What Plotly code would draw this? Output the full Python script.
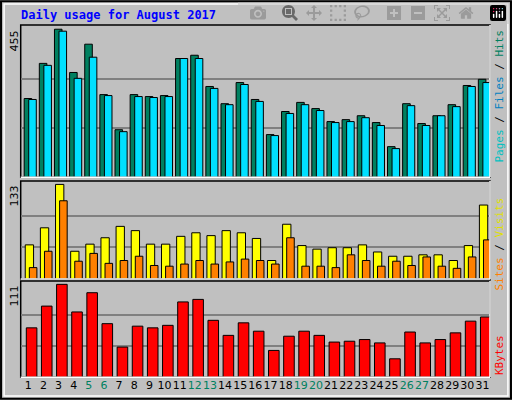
import plotly.graph_objects as go

days = list(range(1, 32))
hits = [242, 350, 455, 322, 409, 254, 146, 254, 248, 251, 365, 375, 279, 226, 291, 239,
        131, 202, 230, 211, 171, 177, 189, 168, 94, 226, 165, 189, 223, 282, 301]
files = [239, 344, 449, 304, 369, 251, 140, 248, 245, 248, 365, 365, 273, 223, 285, 233,
         128, 196, 223, 205, 168, 171, 183, 159, 88, 220, 159, 189, 217, 279, 291]
visits = [48, 72, 133, 39, 49, 58, 74, 68, 49, 49, 60, 65, 61, 68, 65, 57,
          26, 77, 47, 42, 44, 44, 48, 38, 32, 32, 34, 34, 26, 47, 104]
sites = [16, 39, 110, 25, 36, 22, 26, 32, 19, 18, 21, 26, 21, 24, 28, 26,
         21, 58, 18, 18, 16, 34, 26, 18, 25, 19, 31, 18, 15, 31, 55]
kbytes = [59, 85, 111, 78, 101, 64, 36, 61, 59, 62, 90, 93, 68, 50, 65, 55,
          32, 49, 55, 50, 42, 43, 45, 41, 22, 54, 41, 45, 53, 67, 72]
weekend = {5, 6, 12, 13, 19, 20, 26, 27}

BG = "#C0C0C0"
line = dict(color="black", width=1)
fig = go.Figure()

def bars(vals, color, offset, width, axis):
    fig.add_trace(go.Bar(x=days, y=vals, offset=offset, width=width,
                         marker=dict(color=color, line=line),
                         xaxis="x" + axis, yaxis="y" + axis, showlegend=False))

bars(hits, "#008060", -0.27, 0.5, "")
bars(files, "#00E0FF", 0.03, 0.5, "")
bars(visits, "#FFFF00", -0.2, 0.55, "2")
bars(sites, "#FF8000", 0.07, 0.5, "2")
bars(kbytes, "#FF0000", -0.13, 0.7, "3")

ticktext = [f"<span style='color:#008060'>{d}</span>" if d in weekend else str(d) for d in days]
xdom = [20.7 / 512, 490 / 512]
xa = dict(range=[0.5, 31.5], domain=xdom, showticklabels=False, showgrid=False,
          zeroline=False, ticks="", showline=False)
lay = dict(
    width=512, height=400, margin=dict(l=0, r=0, t=0, b=0),
    paper_bgcolor=BG, plot_bgcolor=BG, barmode="overlay",
    font=dict(family="DejaVu Sans Mono", size=11, color="black"),
    xaxis=dict(xa, anchor="y"),
    xaxis2=dict(xa, anchor="y2"),
    xaxis3=dict(xa, anchor="y3", showticklabels=True, tickvals=days, ticktext=ticktext,
                tickangle=0, tickfont=dict(family="DejaVu Sans", size=11)),
    yaxis=dict(domain=[0.557, 0.9375], range=[0, 468], anchor="x",
               tickvals=[455 / 3, 455 * 2 / 3]),
    yaxis2=dict(domain=[0.3025, 0.5475], range=[0, 137.8], anchor="x2",
                tickvals=[133 / 3, 133 * 2 / 3]),
    yaxis3=dict(domain=[0.057, 0.2975], range=[0, 115], anchor="x3",
                tickvals=[111 / 3, 111 * 2 / 3]),
)
for k in ("yaxis", "yaxis2", "yaxis3"):
    lay[k].update(showticklabels=False, gridcolor="#808080", gridwidth=1.5,
                  zeroline=False, ticks="")
fig.update_layout(**lay)

# panel borders
for y0, y1 in [(0.557, 0.9375), (0.3025, 0.5475), (0.057, 0.2975)]:
    fig.add_shape(type="rect", xref="paper", yref="paper", x0=xdom[0], x1=xdom[1],
                  y0=y0, y1=y1, line=dict(color="black", width=1.5), layer="below")
    fig.add_shape(type="line", xref="paper", yref="paper", x0=xdom[1], x1=xdom[1],
                  y0=y0, y1=y1, line=dict(color="white", width=1.5))
    fig.add_shape(type="line", xref="paper", yref="paper", x0=xdom[0], x1=xdom[1],
                  y0=y0, y1=y0, line=dict(color="white", width=1.5))
# outer bevel
fig.add_shape(type="rect", xref="paper", yref="paper", x0=0.002, x1=0.998, y0=0.003, y1=0.997,
              line=dict(color="black", width=2))
fig.add_shape(type="rect", xref="paper", yref="paper", x0=0.008, x1=0.992, y0=0.01, y1=0.99,
              line=dict(color="white", width=1.5))

fig.add_annotation(text="<b>Daily usage for August 2017</b>", xref="paper", yref="paper",
                   x=19 / 512, y=1 - 15 / 400, xanchor="left", yanchor="middle", showarrow=False,
                   font=dict(family="DejaVu Sans Mono", size=12, color="#0000FF"))

for label, ypix in [("455", 29), ("133", 184), ("111", 284)]:
    fig.add_annotation(text=label, xref="paper", yref="paper", x=14 / 512, y=1 - ypix / 400,
                       xanchor="center", yanchor="top", textangle=-90, showarrow=False,
                       font=dict(family="DejaVu Sans", size=11, color="black"))

right = [
    ("<span style='color:#00C0C0'>Pages</span> / <span style='color:#0080C0'>Files</span> / "
     "<span style='color:#008060'>Hits</span>", 28),
    ("<span style='color:#FF8000'>Sites</span> / <span style='color:#E0E000'>Visits</span>", 196),
    ("<span style='color:#FF0000'>KBytes</span>", 333),
]
for text, ypix in right:
    fig.add_annotation(text=text, xref="paper", yref="paper", x=499 / 512, y=1 - ypix / 400,
                       xanchor="center", yanchor="top", textangle=-90, showarrow=False,
                       font=dict(family="DejaVu Sans Mono", size=11))

fig.write_html("out.html")

# drop the browser's default body margin so the 512x400 figure sits flush
with open("out.html", encoding="utf-8") as f:
    html = f.read()
html = html.replace("<body>", "<body style=\"margin:0;overflow:hidden\">", 1)
with open("out.html", "w", encoding="utf-8") as f:
    f.write(html)
